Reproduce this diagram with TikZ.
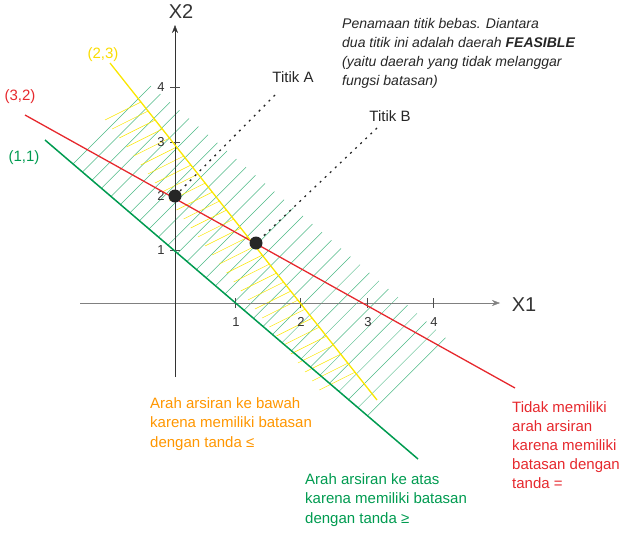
\documentclass[tikz,border=0pt]{standalone}
\usepackage{fontspec}
\setmainfont{Liberation Sans}
\usetikzlibrary{arrows.meta}
\definecolor{yel}{RGB}{250,230,0}
\definecolor{rd}{RGB}{230,40,45}
\definecolor{gr}{RGB}{0,155,80}
\definecolor{org}{RGB}{255,150,0}
\tikzset{lbl/.style={inner sep=0pt,font=\fontsize{15}{18}\selectfont},
 para/.style={inner sep=0pt,align=left,anchor=north west,font=\fontsize{15}{19.5}\selectfont},
 tick/.style={inner sep=0pt,font=\fontsize{13}{15}\selectfont,text=black!80},
 pt/.style={circle,fill=black!85,inner sep=0pt,minimum size=13pt}}
\begin{document}
\begin{tikzpicture}[x=1pt,y=-1pt]
\useasboundingbox (0,0) rectangle (640,533);
% green hatching
\foreach \i in {0,...,31}{
  \pgfmathsetmacro{\xa}{73+9.5*\i}
  \pgfmathsetmacro{\ya}{140+0.855*(\xa-45)}
  \draw[gr!70,line width=0.5pt] (\xa,\ya) -- ++(78,-78);
}
% yellow hatching
\foreach \i in {0,...,30}{
  \pgfmathsetmacro{\yb}{102+9*\i}
  \pgfmathsetmacro{\xb}{118+(\yb-73)/1.26}
  \draw[yel,line width=0.5pt] (\xb,\yb) -- ++(-36,18);
}
% axes
\draw[black!50,-{Stealth[length=8pt]}] (80,303) -- (500,303);
\draw[black!80,-{Stealth[length=8pt]}] (175,377) -- (175,25);
\foreach \x/\l in {235/1,300/2,367/3,433/4}{
  \draw[black!70] (\x,298) -- (\x,308);
  \node[tick] (tx\l) at (\x+1,322) {\l};
}
\foreach \y/\l in {250/1,196/2,142/3,87/4}{
  \draw[black!70] (170,\y) -- (180,\y);
  \node[tick] (ty\l) at (161,\y) {\l};
}
\node[inner sep=0pt,font=\fontsize{20}{22}\selectfont,text=black!80] (x2) at (181,12) {X2};
\node[inner sep=0pt,font=\fontsize{20}{22}\selectfont,text=black!80] (x1) at (524,305) {X1};
% constraint lines
\coordinate (g1) at (45,140); \coordinate (g2) at (418,459);
\coordinate (r1) at (25,115); \coordinate (r2) at (515,388);
\coordinate (y1) at (110,63); \coordinate (y2) at (377,400);
\draw[gr,line width=1.5pt] (g1) -- (g2);
\draw[rd,line width=1.3pt] (r1) -- (r2);
\draw[yel,line width=1.3pt] (y1) -- (y2);
% points
\node[pt] (A) at (175,196) {};
\node[pt] (B) at (256,243) {};
\node[lbl,text=black!85] (tA) at (293,77) {Titik A};
\node[lbl,text=black!85] (tB) at (390,116) {Titik B};
\coordinate (ea) at (275,95); \coordinate (eb) at (377,128);
\draw[black!85,line width=1.3pt,dash pattern=on 2pt off 5pt] (ea) -- (A);
\draw[black!85,line width=1.3pt,dash pattern=on 2pt off 5pt] (eb) -- (B);
% labels
\node[lbl,text=yel!90!orange] (l23) at (103,55) {(2,3)};
\node[lbl,text=rd] (l32) at (20,97) {(3,2)};
\node[lbl,text=gr] (l11) at (24,158) {(1,1)};
\node[para,text=black!85,font=\fontsize{14}{19}\itshape\selectfont] (note) at (342,18) {Penamaan titik bebas. Diantara\\dua titik ini adalah daerah \textbf{FEASIBLE}\\(yaitu daerah yang tidak melanggar\\fungsi batasan)};
\node[para,text=org] (to) at (150,397) {Arah arsiran ke bawah\\karena memiliki batasan\\dengan tanda ≤};
\node[para,text=rd,font=\fontsize{15}{19}\selectfont] (tr) at (512,401) {Tidak memiliki\\arah arsiran\\karena memiliki\\batasan dengan\\tanda =};
\node[para,text=gr] (tg) at (305,473) {Arah arsiran ke atas\\karena memiliki batasan\\dengan tanda ≥};
\end{tikzpicture}
\end{document}
